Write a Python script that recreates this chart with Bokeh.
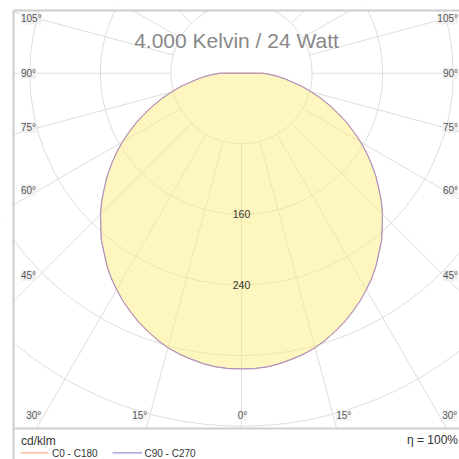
import numpy as np
from bokeh.plotting import figure
from bokeh.models import Range1d, Label
from bokeh.core.properties import value
from bokeh.embed import file_html
from bokeh.resources import INLINE

# ---------------- data ----------------
angles = [0, 2.5, 5, 7.5, 10, 12.5, 15, 17.5, 20, 22.5, 25, 27.5, 30, 32.5, 35, 37.5,
          40, 42.5, 45, 47.5, 50, 52.5, 55, 57.5, 60, 62.5, 65, 67.5, 70, 72.5, 75,
          77.5, 80, 82.5, 85, 87.5, 90]
c0_c180 = [335, 335, 334, 332, 329, 326, 322, 317, 311, 305, 298, 291, 283, 275, 266, 256,
           247, 236, 226, 215, 203, 192, 180, 168, 156, 143, 131, 118, 106, 94, 82,
           71, 59, 50, 41, 32, 24]
c90_c270 = [335, 335, 334, 332, 329, 326, 322, 317, 311, 305, 298, 291, 283, 275, 266, 256,
            247, 236, 226, 215, 203, 192, 180, 168, 156, 143, 131, 118, 106, 94, 82,
            71, 59, 50, 41, 32, 24]
ring_values = [80, 160, 240, 320, 400, 480]
ring_label_values = [160, 240]
ring_labels = ["160", "240"]
side_label_angles = [105, 90, 75, 60, 45]
bottom_label_angles = [-30, -15, 0, 15, 30]
title_text = "4.000 Kelvin / 24 Watt"
unit_text = "cd/klm"
eta_text = "η = 100%"
series_names = ["C0 - C180", "C90 - C270"]
series_colors = ["#f7b08a", "#9d92d6"]

# ---------------- layout ----------------
W = H = 459
S = 0.8825           # px per cd/klm
CX, CY = 241.0, 72.7  # polar centre in canvas px


def X(px):
    return (px - CX) / S


def Y(py):
    return (CY - py) / S


FONT_NAME = "Liberation Sans"
FONT = value(FONT_NAME)
GRID = "#dddddd"
LEFT, TOP, SEP = 13, 10, 428

p = figure(width=W, height=H, output_backend="svg", toolbar_location=None,
           x_range=Range1d(X(0), X(W)), y_range=Range1d(Y(H), Y(0)),
           x_axis_location=None, y_axis_location=None, min_border=0)
p.grid.visible = False
p.outline_line_color = None
p.background_fill_color = "white"
p.border_fill_color = "white"

# rings
p.circle(x=[0] * len(ring_values), y=[0] * len(ring_values), radius=ring_values,
         fill_color=None, line_color=GRID, line_width=1)

# radial lines every 15 deg, starting at the first ring
r0, r1 = ring_values[0], 1000
xs, ys = [], []
for a in range(0, 360, 15):
    t = np.radians(a)
    xs.append([r0 * np.sin(t), r1 * np.sin(t)])
    ys.append([-r0 * np.cos(t), -r1 * np.cos(t)])
p.multi_line(xs, ys, line_color=GRID, line_width=1)


def curve(vals):
    th = np.radians(np.array([-a for a in angles[::-1]] + angles[1:], dtype=float))
    iv = np.array(vals[::-1] + vals[1:], dtype=float)
    x = iv * np.sin(th)
    y = -iv * np.cos(th)
    return np.append(x, x[0]), np.append(y, y[0])


fx, fy = curve(c0_c180)
p.patch(fx, fy, fill_color="#fdee80", fill_alpha=0.5, line_color=None)
p.line(fx, fy, line_color=series_colors[0], line_width=1.2)
gx, gy = curve(c90_c270)
p.line(gx, gy, line_color=series_colors[1], line_width=1)

# white covers outside the frame
p.quad(left=[X(-20), X(-20), X(LEFT)], right=[X(LEFT), X(490), X(490)],
       top=[Y(-20), Y(-20), Y(SEP)], bottom=[Y(490), Y(TOP), Y(490)],
       fill_color="white", line_color=None)

# frame
p.line([X(LEFT), X(LEFT)], [Y(TOP), Y(490)], line_color="#cccccc", line_width=2)
p.line([X(LEFT), X(490)], [Y(TOP), Y(TOP)], line_color="#cccccc", line_width=2)
p.line([X(LEFT), X(490)], [Y(SEP), Y(SEP)], line_color="#cfcfcf", line_width=2)

# side angle labels
for a in side_label_angles:
    t = np.radians(a)
    yd = 0.95 * 213 * np.cos(t) / np.sin(t)
    for side in (-1, 1):
        lx = X(20.5) if side < 0 else X(457.5)
        p.add_layout(Label(x=lx, y=Y(CY + yd), text=f"{a}°",
                           text_align="left" if side < 0 else "right",
                           text_baseline="middle", text_font=FONT_NAME,
                           text_font_size="10px", text_color="#555555",
                           background_fill_color="#f0f0f0", background_fill_alpha=0.9))

# bottom angle labels
yb = 415
for a in bottom_label_angles:
    dx = (yb - CY) * np.tan(np.radians(abs(a)))
    if a < 0:
        lx, al = CX - dx - 2.5, "right"
    elif a > 0:
        lx, al = CX + dx + 3, "left"
    else:
        lx, al = CX + 1, "center"
    p.add_layout(Label(x=X(lx), y=Y(yb), text=f"{abs(a)}°", text_align=al,
                       text_baseline="middle", text_font=FONT_NAME,
                       text_font_size="10px", text_color="#555555",
                       background_fill_color="#f4f4f4", background_fill_alpha=0.8))

# ring labels
p.text(x=[0] * len(ring_label_values), y=[-v for v in ring_label_values], text=ring_labels,
       text_align="center", text_baseline="middle", text_font=FONT,
       text_font_size="10.5px", text_color="#333333")

# title
p.text(x=[X(236)], y=[Y(40)], text=[title_text], text_align="center",
       text_baseline="middle", text_font=FONT, text_font_size="21px",
       text_color="#888888")

# footer
p.text(x=[X(20.5)], y=[Y(440)], text=[unit_text], text_align="left",
       text_baseline="middle", text_font=FONT, text_font_size="12px", text_color="#333333")
p.text(x=[X(457.5)], y=[Y(439.5)], text=[eta_text], text_align="right",
       text_baseline="middle", text_font=FONT, text_font_size="12px", text_color="#333333")

leg_x = [(20, 48, 51.5), (112, 141.5, 144)]
for (x0, x1, tx), name, col in zip(leg_x, series_names, series_colors):
    p.line([X(x0), X(x1)], [Y(452.3), Y(452.3)], line_color=col, line_width=1.2)
    p.text(x=[X(tx)], y=[Y(452.5)], text=[name], text_align="left", text_baseline="middle",
           text_font=FONT, text_font_size="10px", text_color="#333333")

open("out.html", "w").write(file_html(p, INLINE))
